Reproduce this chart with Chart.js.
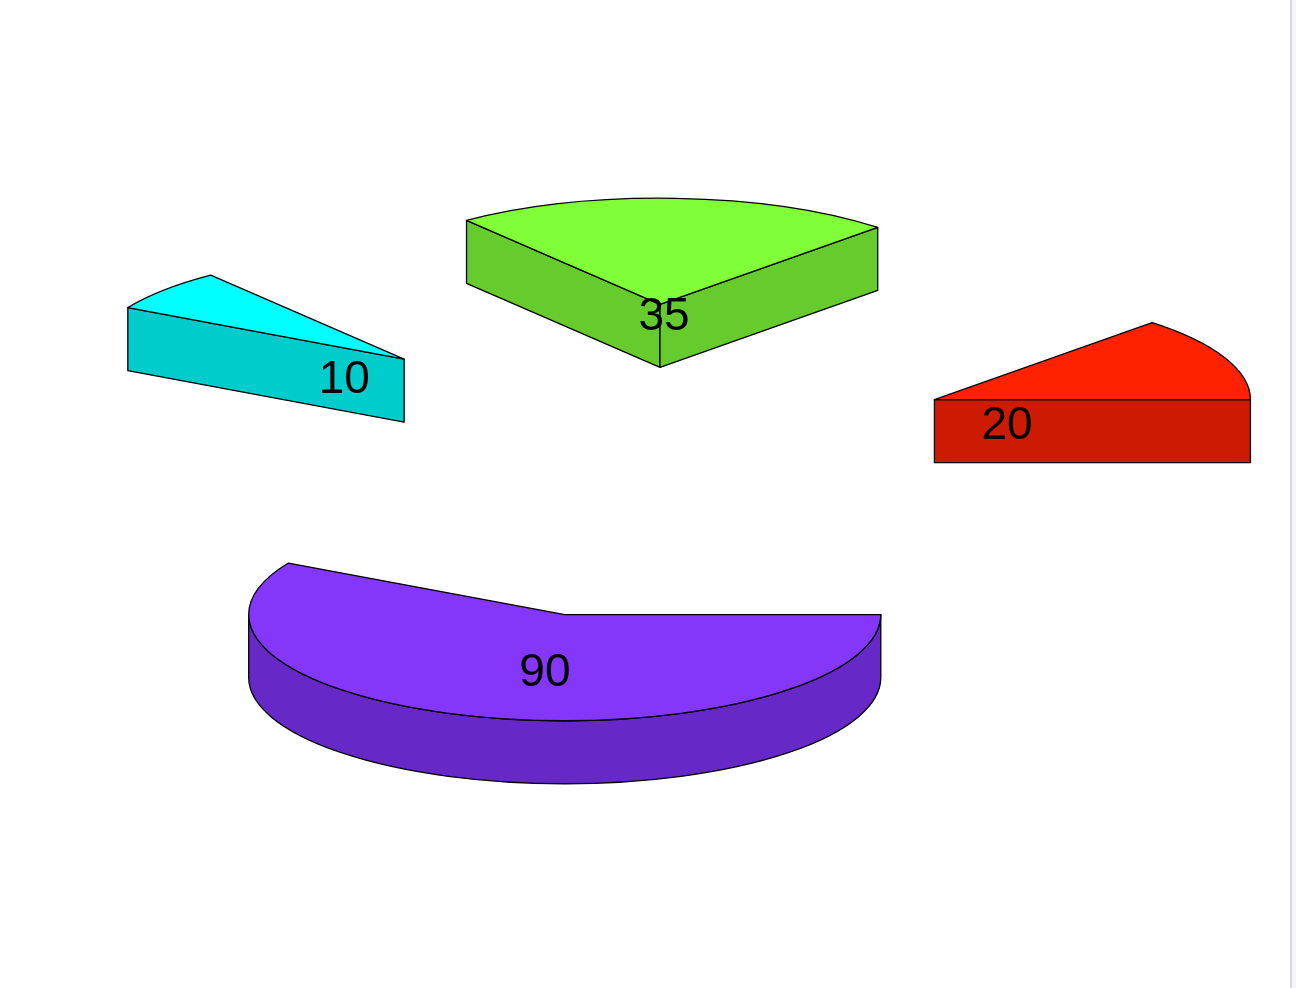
<!DOCTYPE html>
<html>
<head>
<meta charset="utf-8">
<script src="https://cdn.jsdelivr.net/npm/chart.js@4.4.1/dist/chart.umd.min.js"></script>
<style>
  html, body { margin: 0; padding: 0; background: #ffffff; overflow: hidden; }
  #wrap { position: absolute; left: 0; top: 0; width: 1290px; height: 988px; }
  #sb { position: absolute; left: 1290px; top: 0; width: 4px; height: 988px; border-left: 2px solid #d9d9dc; background: #f5f5f7; }
</style>
</head>
<body>
<div id="wrap"><canvas id="c"></canvas></div>
<div id="sb"></div>
<script>
// ---- data ----
const categories = ['A', 'B', 'C', 'D'];
const values = [90, 10, 35, 20];
const valueLabels = ['90', '10', '35', '20'];
const topColors = ['#8437F9', '#00FFFF', '#80FF38', '#FF2200'];
const sideColors = ['#6629C7', '#00CCCC', '#66CC2D', '#CC1B00'];

// ---- 3D pie plugin ----
const pie3d = {
  id: 'pie3d',
  beforeDatasetsDraw() { return false; },
  afterDraw(chart) {
    const ctx = chart.ctx;
    const area = chart.chartArea;
    const meta = chart.getDatasetMeta(0);
    const cx = area.left + area.width * 0.4992;
    const cyTop = area.top + area.height * 0.4675;
    const rx = area.width * 0.245;
    const ry = rx * 0.336;
    const depth = 63;
    const exX = rx * 1.0;
    const exY = rx * 0.499;

    const slices = meta.data.map((arc, i) => {
      const a = arc.startAngle, b = arc.endAngle;
      const m = (a + b) / 2;
      return { i, a, b, m, ax: cx + exX * Math.cos(m), ay: cyTop + exY * Math.sin(m) };
    });
    // back to front
    slices.sort((p, q) => p.ay - q.ay);

    ctx.save();
    ctx.lineWidth = 1.3;
    ctx.strokeStyle = '#000000';
    ctx.lineJoin = 'round';

    const wall = (s, phi) => {
      const px = s.ax + rx * Math.cos(phi), py = s.ay + ry * Math.sin(phi);
      ctx.beginPath();
      ctx.moveTo(s.ax, s.ay);
      ctx.lineTo(px, py);
      ctx.lineTo(px, py + depth);
      ctx.lineTo(s.ax, s.ay + depth);
      ctx.closePath();
      ctx.fillStyle = sideColors[s.i];
      ctx.fill();
      ctx.stroke();
    };

    slices.forEach(s => {
      // radial walls
      if (Math.cos(s.a) < -1e-6) wall(s, s.a);
      if (Math.cos(s.b) > 1e-6 || Math.abs(Math.cos(s.b) - 1) < 1e-6) wall(s, s.b);
      // curved outer side (front half)
      const st = Math.max(s.a, 0), en = Math.min(s.b, Math.PI);
      if (en > st) {
        ctx.beginPath();
        ctx.ellipse(s.ax, s.ay, rx, ry, 0, st, en, false);
        ctx.ellipse(s.ax, s.ay + depth, rx, ry, 0, en, st, true);
        ctx.closePath();
        ctx.fillStyle = sideColors[s.i];
        ctx.fill();
        ctx.stroke();
      }
      // top face
      ctx.beginPath();
      ctx.moveTo(s.ax, s.ay);
      ctx.ellipse(s.ax, s.ay, rx, ry, 0, s.a, s.b, false);
      ctx.closePath();
      ctx.fillStyle = topColors[s.i];
      ctx.fill();
      ctx.stroke();
    });

    // labels
    ctx.fillStyle = '#000000';
    ctx.font = '46px "Liberation Sans", Arial, sans-serif';
    ctx.textAlign = 'center';
    ctx.textBaseline = 'alphabetic';
    slices.forEach(s => {
      const lx = s.ax + rx * 0.25 * Math.cos(s.m);
      const ly = s.ay + ry * 0.221 * Math.sin(s.m) + depth * 0.515 + 16.5;
      ctx.fillText(valueLabels[s.i], lx, ly);
    });
    ctx.restore();
  }
};

new Chart(document.getElementById('c'), {
  type: 'pie',
  data: {
    labels: categories,
    datasets: [{
      data: values,
      backgroundColor: topColors,
      borderWidth: 0
    }]
  },
  options: {
    responsive: true,
    maintainAspectRatio: false,
    animation: false,
    rotation: 90,
    circumference: 360,
    layout: { padding: 0 },
    events: [],
    plugins: {
      legend: { display: false },
      tooltip: { enabled: false }
    }
  },
  plugins: [pie3d]
});
</script>
</body>
</html>
